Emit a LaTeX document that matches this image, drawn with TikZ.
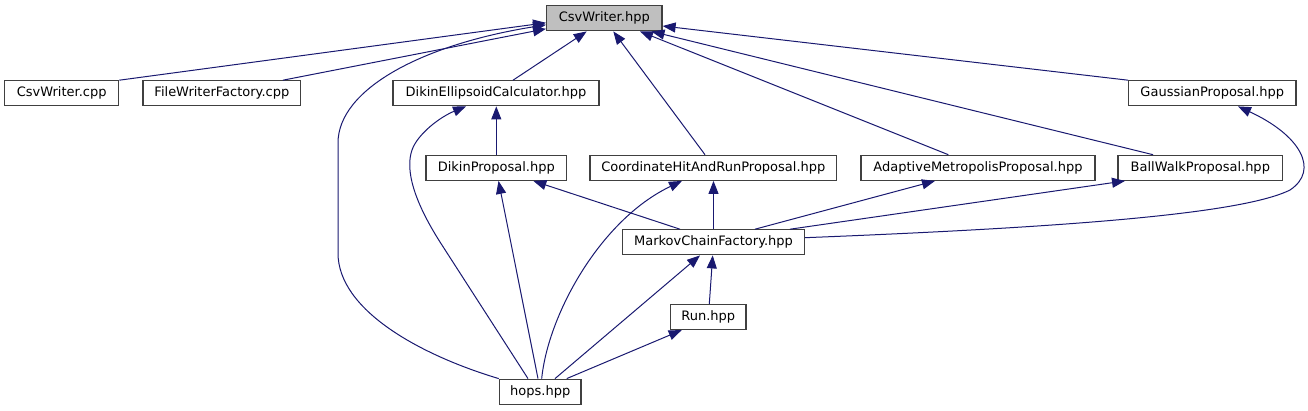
\documentclass[tikz,border=0pt]{standalone}
\usepackage{fontspec}
\setmainfont{DejaVu Sans}
\usetikzlibrary{arrows.meta}
\definecolor{edgeblue}{HTML}{191970}
\definecolor{boxline}{HTML}{404040}
\definecolor{rootfill}{HTML}{BFBFBF}
\tikzset{
  filebox/.style={draw=boxline, line width=1.2pt, fill=white, minimum height=25pt,
    inner sep=0pt, font=\fontsize{13pt}{15pt}\selectfont, text=black},
  rootbox/.style={filebox, fill=rootfill},
  dep/.style={draw=edgeblue, line width=1pt,
    -{Triangle[length=13pt, width=10pt, fill=edgeblue]}},
}
\begin{document}
\begin{tikzpicture}[x=1pt, y=-1pt]
\useasboundingbox (0,0) rectangle (1308,411);
% nodes
\node[rootbox, minimum width=115.4pt] (hpp) at (604.3,18.3) {CsvWriter.hpp};
\node[filebox, minimum width=114pt] (cpp) at (61.7,93.3) {CsvWriter.cpp};
\node[filebox, minimum width=157.7pt] (fwf) at (221.9,93.3) {FileWriterFactory.cpp};
\node[filebox, minimum width=206pt] (dec) at (496,93.3) {DikinEllipsoidCalculator.hpp};
\node[filebox, minimum width=167.3pt] (gauss) at (1212.3,93.3) {GaussianProposal.hpp};
\node[filebox, minimum width=140.7pt] (dp) at (496.3,167.8) {DikinProposal.hpp};
\node[filebox, minimum width=246.7pt] (chr) at (713.3,167.8) {CoordinateHitAndRunProposal.hpp};
\node[filebox, minimum width=234pt] (am) at (978,167.8) {AdaptiveMetropolisProposal.hpp};
\node[filebox, minimum width=164.7pt] (bw) at (1200.3,167.8) {BallWalkProposal.hpp};
\node[filebox, minimum width=181.6pt] (mcf) at (713.5,242.3) {MarkovChainFactory.hpp};
\node[filebox, minimum width=75.3pt] (run) at (708.3,317) {Run.hpp};
\node[filebox, minimum width=81.7pt] (hops) at (540.2,391.7) {hops.hpp};
% edges to CsvWriter.hpp
\draw[dep] (cpp.north east) -- ([yshift=-4.5pt]hpp.west);
\draw[dep] ([xshift=61pt]fwf.north) -- ([yshift=-10.5pt]hpp.west);
\draw[dep] (hops.north west) .. controls (420,355) and (338,310) .. (338,253)
  -- (338,143) .. controls (338,90) and (420,45) .. ([yshift=-6.5pt]hpp.west);
\draw[dep] ([xshift=17pt]dec.north) -- ([xshift=-17.6pt]hpp.south);
\draw[dep] ([xshift=-8.3pt]chr.north) -- ([xshift=9pt]hpp.south);
\draw[dep] ([xshift=-29.7pt]am.north) -- ([xshift=35.7pt]hpp.south);
\draw[dep] ([xshift=-47.3pt]bw.north) -- ([xshift=47.2pt]hpp.south);
\draw[dep] (gauss.north west) -- ([yshift=-7.7pt]hpp.east);
% Dikin
\draw[dep] (dp.north) -- (dp.north |- dec.south);
\draw[dep] ([xshift=-12.2pt]hops.north) -- (440,242) .. controls (414,201) and (405,170) .. (412,150)
  .. controls (417.6,134) and (440,117) .. ([xshift=-30pt]dec.south);
\draw[dep] ([xshift=-2.2pt]hops.north) -- ([xshift=2.2pt]dp.south);
\draw[dep] ([xshift=1.5pt]hops.north) .. controls (548,315) and (600,220) .. ([xshift=-31.3pt]chr.south);
% MarkovChainFactory
\draw[dep] ([xshift=-33.5pt]mcf.north) -- ([xshift=37pt]dp.south);
\draw[dep] (mcf.north) -- (mcf.north |- chr.south);
\draw[dep] ([xshift=41.5pt]mcf.north) -- ([xshift=-43pt]am.south);
\draw[dep] ([xshift=76.5pt]mcf.north) -- ([xshift=-75.3pt]bw.south);
\draw[dep] ([yshift=4.6pt]mcf.east) .. controls (1050,228) and (1240,215) .. (1290,190)
  .. controls (1320,170) and (1300,135) .. ([xshift=25.7pt]gauss.south);
% Run / hops
\draw[dep] ([xshift=1pt]run.north) -- ([xshift=-0.8pt]mcf.south);
\draw[dep] ([xshift=14.8pt]hops.north) -- ([xshift=-13.5pt]mcf.south);
\draw[dep] ([xshift=26.5pt]hops.north) -- ([xshift=-26.6pt]run.south);
\end{tikzpicture}
\end{document}
